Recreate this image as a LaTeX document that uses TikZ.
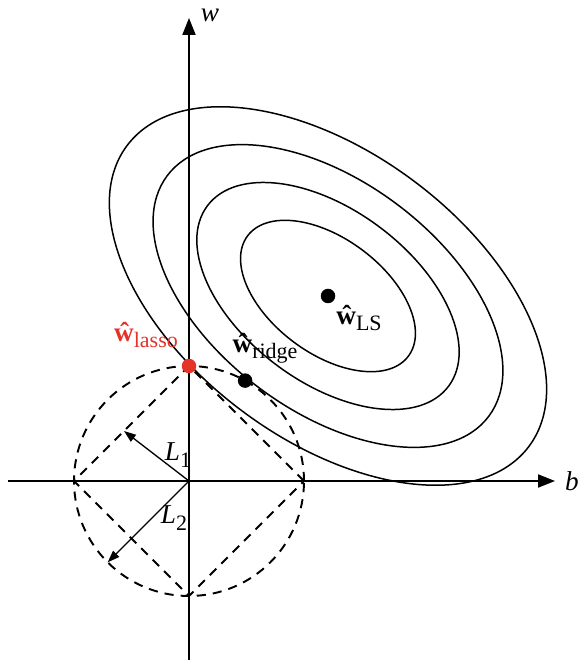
\documentclass[tikz,border=0pt]{standalone}
\usepackage{fontspec}
\setmainfont{Liberation Serif}
\usetikzlibrary{arrows.meta}
\definecolor{lassored}{RGB}{228,50,40}
\newcommand{\westim}[1]{\textbf{\^w}\raisebox{-0.45ex}{\fontsize{12.5}{14}\selectfont #1}}
\newcommand{\normlab}[1]{\textit{L}\raisebox{-0.55ex}{\fontsize{12.5}{14}\selectfont #1}}

\begin{document}
\begin{tikzpicture}[scale=1,font=\fontsize{15.5}{18}\selectfont,
  axis/.style={line width=1.1pt,-{Triangle[length=3.4mm,width=2.6mm]}},
  constraint/.style={line width=1.1pt,dash pattern=on 5.2pt off 4pt},
  contour/.style={line width=0.85pt},
  norm/.style={line width=0.75pt,-{Triangle[length=2.4mm,width=1.7mm]}},
  dot/.style={circle,fill=black,inner sep=0pt,minimum size=2.9mm}]
\useasboundingbox (-3.78,-3.58) rectangle (7.82,9.62);
\coordinate (O) at (0,0);
\coordinate (ls) at (2.78,3.70);
% contours of the least squares cost
\foreach \s in {0.4,0.6,0.8,1}{
  \draw[contour,rotate around={-36.8:(ls)}] (ls) ellipse ({5.02*\s} and {2.87*\s});
}
% constraint regions
\draw[constraint] (O) circle (2.3);
\draw[constraint] (2.3,0)--(0,2.3)--(-2.3,0)--(0,-2.3)--cycle;
% axes
\coordinate (bmin) at (-3.62,0);
\coordinate (bmax) at (7.32,0);
\coordinate (wmin) at (0,-3.58);
\coordinate (wmax) at (0,9.26);
\draw[axis] (bmin)--(bmax);
\draw[axis] (wmin)--(wmax);
\node (blab) at (7.66,0) {\textit{b}};
\node (wlab) at (0.42,9.32) {\textit{w}};
% norms
\coordinate (l1end) at (-1.3,1.0);
\coordinate (l2end) at (225:2.3);
\draw[norm] (O)--(l1end);
\draw[norm] (O)--(l2end);
\node (l1lab) at (-0.22,0.52) {\normlab{1}};
\node (l2lab) at (-0.30,-0.74) {\normlab{2}};
% estimates
\node[dot,fill=lassored] (lasso) at (0,2.3) {};
\node[dot] (ridge) at (60.8:2.3) {};
\node[dot] (lsdot) at (ls) {};
\node[text=lassored] (lassolab) at (-0.86,2.92) {\westim{lasso}};
\node (ridgelab) at (1.52,2.66) {\westim{ridge}};
\node (lslab) at (3.4,3.26) {\westim{LS}};
\end{tikzpicture}
\end{document}
